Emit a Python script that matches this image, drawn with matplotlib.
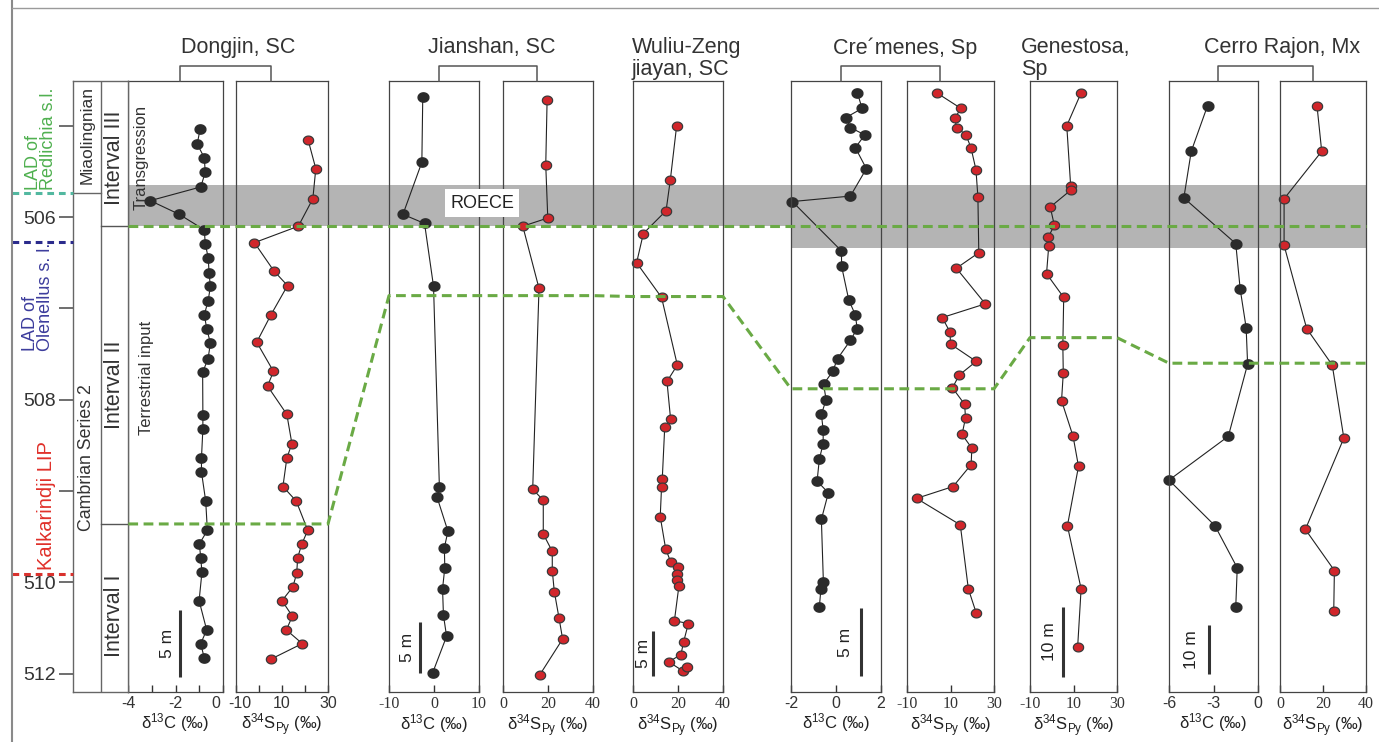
import matplotlib
matplotlib.use("Agg")
import numpy as np
import matplotlib.pyplot as plt
from matplotlib.transforms import ScaledTranslation

plt.rcParams["font.family"] = ["Liberation Sans", "DejaVu Sans"]
plt.rcParams["mathtext.fontset"] = "custom"
plt.rcParams["mathtext.rm"] = "Liberation Sans"
plt.rcParams["mathtext.it"] = "Liberation Sans:italic"

W, H = 1379, 742

# shared age scale (Ma) and the labels printed on it
age_ticks = [505, 506, 507, 508, 509, 510, 511]
age_tick_labels = ["", "506", "", "508", "", "510", "512"]
age_top, age_bottom = 504.51, 511.20

# ROECE interval and correlation horizons (Ma)
roece_top = 505.65
roece_base_china = 506.10
roece_base_spain = 506.34
interval_boundaries = [506.10, 509.36]          # III/II, II/I
series_boundary = 505.74                        # Miaolingnian / Series 2
lower_horizon = [509.36, 506.86, 506.87, 507.88, 507.32, 507.60]
events = [("LAD of\nRedlichia s.l.", 505.74), ("LAD of\nOlenellus s. l.", 506.27),
          ("Kalkarindji LIP", 509.91)]

# Dongjin, South China
dongjin_c_age = [505.04, 505.20, 505.35, 505.51, 505.67, 505.82, 505.97, 506.14, 506.29, 506.45,
                 506.61, 506.76, 506.92, 507.07, 507.23, 507.38, 507.55, 507.70, 508.17, 508.32,
                 508.64, 508.79, 509.11, 509.43, 509.58, 509.73, 509.89, 510.20, 510.52, 510.67, 510.83]
dongjin_d13c = [-0.96, -1.08, -0.78, -0.74, -0.93, -3.07, -1.84, -0.78, -0.74, -0.61,
                -0.58, -0.52, -0.62, -0.78, -0.67, -0.52, -0.62, -0.85, -0.84, -0.84,
                -0.90, -0.90, -0.72, -0.65, -0.99, -0.93, -0.88, -1.00, -0.68, -0.93, -0.78]
dongjin_s_age = [505.16, 505.47, 505.80, 506.10, 506.28, 506.59, 506.75, 507.07, 507.37, 507.69,
                 507.85, 508.16, 508.48, 508.64, 508.95, 509.11, 509.43, 509.58, 509.73, 509.90,
                 510.05, 510.20, 510.37, 510.52, 510.67, 510.84]
dongjin_d34s = [21.4, 24.7, 23.4, 17.1, -2.0, 6.5, 12.4, 5.2, -1.0, 6.3,
                3.7, 12.1, 14.3, 12.1, 10.4, 16.2, 21.2, 18.6, 16.8, 16.4,
                14.7, 10.0, 14.5, 11.9, 18.8, 5.2]

# Jianshan, South China
jianshan_c_age = [504.69, 505.40, 505.97, 506.07, 506.76, 508.96, 509.07, 509.44, 509.62, 509.84,
                  510.07, 510.36, 510.59, 510.99]
jianshan_d13c = [-2.5, -2.7, -6.9, -2.1, -0.1, 1.2, 0.7, 3.1, 2.3, 2.4, 1.9, 2.1, 2.8, -0.3]
jianshan_s_age = [504.72, 505.43, 506.01, 506.10, 506.78, 508.98, 509.10, 509.47, 509.66, 509.87,
                  510.10, 510.39, 510.62, 511.01]
jianshan_d34s = [19.6, 19.0, 19.9, 8.8, 16.0, 13.2, 17.9, 17.9, 21.9, 21.9, 22.8, 24.9, 26.5, 16.4]

# Wuliu-Zengjiayan, South China
wuliu_s_age = [505.00, 505.59, 505.93, 506.18, 506.50, 506.88, 507.62, 507.80, 508.21, 508.30,
               508.87, 508.95, 509.28, 509.63, 509.78, 509.83, 509.91, 509.97, 510.04, 510.42,
               510.45, 510.65, 510.79, 510.87, 510.97, 510.93]
wuliu_d34s = [19.4, 16.6, 14.7, 4.6, 1.6, 12.7, 19.7, 15.1, 16.7, 14.1,
              13.0, 12.7, 12.1, 14.5, 16.8, 19.9, 19.4, 19.4, 20.4, 18.4,
              24.6, 22.5, 21.3, 15.9, 22.2, 24.0]

# Cremenes, Spain
cremenes_c_age = [504.64, 504.81, 504.91, 505.02, 505.10, 505.24, 505.47, 505.77, 505.83, 506.37,
                  506.54, 506.91, 507.07, 507.22, 507.35, 507.55, 507.69, 507.83, 508.00, 508.16,
                  508.33, 508.48, 508.65, 508.89, 509.02, 509.31, 510.00, 510.07, 510.27]
cremenes_d13c = [0.95, 1.16, 0.44, 0.64, 1.28, 0.86, 1.35, 0.64, -1.94, 0.24,
                 0.25, 0.57, 0.86, 0.94, 0.64, 0.07, -0.15, -0.55, -0.44, -0.65,
                 -0.57, -0.57, -0.74, -0.84, -0.34, -0.65, -0.56, -0.67, -0.74]
cremenes_s_age = [504.64, 504.81, 504.92, 505.02, 505.10, 505.24, 505.48, 505.78, 506.39, 506.56,
                  506.95, 507.10, 507.26, 507.39, 507.58, 507.73, 507.87, 508.05, 508.20, 508.38,
                  508.53, 508.71, 508.95, 509.08, 509.37, 510.07, 510.34]
cremenes_d34s = [3.7, 14.8, 11.9, 12.9, 17.1, 19.4, 21.7, 22.6, 23.0, 12.7,
                 26.0, 6.2, 9.8, 10.0, 21.8, 14.0, 10.9, 16.5, 16.9, 15.3,
                 19.8, 19.5, 11.2, -5.6, 14.5, 18.2, 21.9]

# Genestosa, Spain
genestosa_s_age = [504.64, 505.00, 505.66, 505.70, 505.89, 506.09, 506.22, 506.32, 506.62, 506.88,
                   507.40, 507.71, 508.01, 508.40, 508.73, 509.38, 510.07, 510.71]
genestosa_d34s = [13.5, 6.9, 8.7, 9.0, -0.7, 1.2, -1.6, -1.4, -2.4, 5.5,
                  5.1, 5.3, 4.5, 9.8, 12.3, 7.2, 13.5, 11.9]

# Cerro Rajon, Mexico
cerro_c_age = [504.78, 505.28, 505.79, 506.29, 506.79, 507.21, 507.61, 508.40, 508.88, 509.38,
               509.84, 510.27]
cerro_d13c = [-3.4, -4.5, -5.0, -1.5, -1.2, -0.8, -0.7, -2.0, -6.0, -2.9, -1.4, -1.5]
cerro_s_age = [504.78, 505.28, 505.80, 506.31, 507.22, 507.62, 508.42, 509.42, 509.87, 510.31]
cerro_d34s = [17.2, 19.4, 1.9, 1.9, 12.4, 24.3, 29.7, 11.8, 25.3, 25.0]

C_LABEL = "δ$^{13}$C (‰)"
S_LABEL = "δ$^{34}$S$_{\\mathrm{Py}}$ (‰)"

# panel: (ages, values, kind, left px, right px, xlim, ticks, tick labels, tick font, section)
panels = [
    (dongjin_c_age, dongjin_d13c, "C", 128.3, 222.7, (-4, 0), [-4, -3, -2, -1, 0], ["-4", "", "-2", "", "0"], "sans", 0),
    (dongjin_s_age, dongjin_d34s, "S", 236, 328, (-10, 30), [-10, 0, 10, 20, 30], ["-10", "", "10", "", "30"], "sans", 0),
    (jianshan_c_age, jianshan_d13c, "C", 389, 479, (-10, 10), [-10, 0, 10], ["-10", "0", "10"], "serif", 1),
    (jianshan_s_age, jianshan_d34s, "S", 503, 593, (0, 40), [0, 20, 40], ["0", "20", "40"], "serif", 1),
    (wuliu_s_age, wuliu_d34s, "S", 633, 723, (0, 40), [0, 20, 40], ["0", "20", "40"], "serif", 2),
    (cremenes_c_age, cremenes_d13c, "C", 791, 881, (-2, 2), [-2, 0, 2], ["-2", "0", "2"], "sans", 3),
    (cremenes_s_age, cremenes_d34s, "S", 907, 994, (-10, 30), [-10, 10, 30], ["-10", "10", "30"], "serif", 3),
    (genestosa_s_age, genestosa_d34s, "S", 1030, 1117, (-10, 30), [-10, 10, 30], ["-10", "10", "30"], "serif", 4),
    (cerro_c_age, cerro_d13c, "C", 1169, 1258, (-6, 0), [-6, -3, 0], ["-6", "-3", "0"], "sans", 5),
    (cerro_s_age, cerro_d34s, "S", 1280, 1366, (0, 40), [0, 20, 40], ["0", "20", "40"], "serif", 5),
]
# nudges (px) for crowded tick labels at neighbouring panel edges: (panel, tick index, dx)
label_nudges = [(0, 4, -7), (1, 0, 4)]

PANEL_TOP, PANEL_BOTTOM = 81, 692
INK = "#333333"
GREEN = "#6aaa45"

# slightly flattened dot used for the sample symbols
_t = np.linspace(0, 2 * np.pi, 41)
DOT = list(zip(np.cos(_t), 0.86 * np.sin(_t)))


def fx(x):
    return x / W


def fy(y):
    return 1 - y / H


fig = plt.figure(figsize=(W / 100, H / 100), dpi=100)
row = [0, fy(PANEL_BOTTOM), 1, (PANEL_BOTTOM - PANEL_TOP) / H]

# grey ROECE band, drawn behind the panels (x in pixels, y in Ma)
ax_band = fig.add_axes(row, zorder=0)
ax_band.set_xlim(0, W)
ax_band.set_ylim(age_bottom, age_top)
ax_band.axis("off")
ax_band.fill_between([128.3, 791], roece_top, roece_base_china, color="#b4b4b4", lw=0)
ax_band.fill_between([791, 1366], roece_top, roece_base_spain, color="#b4b4b4", lw=0)

# isotope panels
panel_axes = []
for ages, vals, kind, x0, x1, xlim, ticks, tlabels, tfont, sec in panels:
    ax = fig.add_axes([fx(x0), fy(PANEL_BOTTOM), fx(x1 - x0), (PANEL_BOTTOM - PANEL_TOP) / H], zorder=1)
    ax.set_facecolor("none")
    if kind == "C":
        ax.plot(vals, ages, color="#222222", lw=0.8, marker=DOT, ms=7.8,
                mfc="#2b2b2b", mec="#2b2b2b", clip_on=False)
    else:
        ax.plot(vals, ages, color="#222222", lw=0.8, marker=DOT, ms=7.4,
                mfc="#d1262b", mec="#3a3a3a", mew=0.9, clip_on=False)
    ax.set_xlim(*xlim)
    ax.set_ylim(age_bottom, age_top)
    ax.set_yticks([])
    ax.set_xticks(ticks)
    ax.set_xticklabels(tlabels, family="Liberation Serif" if tfont == "serif" else "Liberation Sans",
                       fontsize=11.5, color=INK)
    ax.tick_params(axis="x", direction="in", length=5, width=1, color=INK, pad=3)
    for sp in ax.spines.values():
        sp.set_color("#444444")
        sp.set_linewidth(0.9)
    ax.set_xlabel(C_LABEL if kind == "C" else S_LABEL, fontsize=12, color="#222222", labelpad=0)
    panel_axes.append(ax)

for p, i, dx in label_nudges:
    lab = panel_axes[p].get_xticklabels()[i]
    lab.set_transform(lab.get_transform() + ScaledTranslation(dx / 100, 0, fig.dpi_scale_trans))

# stratigraphic column with the age axis
ax_col = fig.add_axes([fx(73), fy(PANEL_BOTTOM), fx(128.3 - 73), (PANEL_BOTTOM - PANEL_TOP) / H], zorder=1)
ax_col.set_xlim(0, 2)
ax_col.set_ylim(age_bottom, age_top)
ax_col.set_xticks([])
ax_col.set_yticks(age_ticks)
ax_col.set_yticklabels(age_tick_labels, fontsize=14, color="#333333")
ax_col.tick_params(axis="y", direction="out", length=10, width=1.2, color="#555555", pad=2)
for sp in ax_col.spines.values():
    sp.set_color("#666666")
    sp.set_linewidth(1.0)
ax_col.axvline(1, color="#666666", lw=1.0)
ax_col.plot([0, 1], [series_boundary, series_boundary], color="#666666", lw=1.0)
for b in interval_boundaries:
    ax_col.plot([1, 2], [b, b], color="#555555", lw=1.0)
col_text = dict(rotation=90, ha="center", va="center", color="#333333")
ax_col.text(0.5, 505.10, "Miaolingnian", fontsize=12.5, **col_text)
ax_col.text(0.5, 508.63, "Cambrian Series 2", fontsize=12.8, **col_text)
ax_col.text(1.5, 505.35, "Interval III", fontsize=15.5, **col_text)
ax_col.text(1.5, 507.84, "Interval II", fontsize=15.5, **col_text)
ax_col.text(1.5, 510.37, "Interval I", fontsize=15.5, **col_text)

# correlation horizons over the panels (x in pixels, y in Ma)
ax_lines = fig.add_axes(row, zorder=2)
ax_lines.set_xlim(0, W)
ax_lines.set_ylim(age_bottom, age_top)
ax_lines.axis("off")
dash = dict(color=GREEN, lw=2.2, ls=(0, (3.2, 1.8)), clip_on=False)
ax_lines.plot([128.3, 1366], [roece_base_china, roece_base_china], **dash)
hx, hy = [], []
for p in panels:
    x0, x1, sec = p[3], p[4], p[-1]
    hx += [x0, x1]
    hy += [lower_horizon[sec], lower_horizon[sec]]
ax_lines.plot(hx, hy, **dash)

# biostratigraphic / volcanic events left of the column
event_style = [("#52b8a0", "#4fb04f", 41, 190, 13), ("#2b2b8c", "#3c3c9c", 38, 351, 13),
               ("#d9312d", "#e0302a", 47, 570, 14.5)]
for (label, age), (lc, tc, tx, ty, fs) in zip(events, event_style):
    ax_lines.plot([12, 73], [age, age], color=lc, lw=2.2, ls=(0, (2.2, 1.6)), clip_on=False)
    fig.text(fx(tx), fy(ty), label, rotation=90, ha="center", va="bottom", color=tc,
             fontsize=fs, multialignment="left", linespacing=0.9)

# pixel overlay for frame, brackets, titles, scale bars and notes
ax_px = fig.add_axes([0, 0, 1, 1], zorder=3)
ax_px.set_xlim(0, W)
ax_px.set_ylim(H, 0)
ax_px.axis("off")
ax_px.plot([12, 12], [0, H], color="#8a8a8a", lw=1.5)
ax_px.plot([12, W], [8, 8], color="#9a9a9a", lw=1.0)

pairs = [(0, 1), (2, 3), (5, 6), (8, 9)]
for a, b in pairs:
    xa = panels[a][3] + 0.55 * (panels[a][4] - panels[a][3])
    xb = panels[b][3] + 0.38 * (panels[b][4] - panels[b][3])
    ax_px.plot([xa, xa, xb, xb], [PANEL_TOP, 65.7, 65.7, PANEL_TOP], color="#555555", lw=1.1)

title_kw = dict(fontsize=15.5, color="#333333")
ax_px.text(238, 48, "Dongjin, SC", ha="center", va="center", **title_kw)
ax_px.text(492, 48, "Jianshan, SC", ha="center", va="center", **title_kw)
ax_px.text(632, 37, "Wuliu-Zeng\njiayan, SC", ha="left", va="top", linespacing=1.05, **title_kw)
ax_px.text(905, 48, "Cre\u00b4menes, Sp", ha="center", va="center", **title_kw)
ax_px.text(1021, 37, "Genestosa,\nSp", ha="left", va="top", linespacing=1.05, **title_kw)
ax_px.text(1282, 48, "Cerro Rajon, Mx", ha="center", va="center", **title_kw)

# scale bars: x, top, bottom, label, label x
scale_bars = [(180.3, 610, 677, "5 m", 168), (420, 622, 673, "5 m", 408),
              (653.3, 631, 676, "5 m", 643), (861, 608, 676, "5 m", 846),
              (1062.7, 607, 677, "10 m", 1049), (1208.7, 625, 674, "10 m", 1192)]
for x, y0, y1, lab, lx in scale_bars:
    ax_px.plot([x, x], [y0, y1], color="#333333", lw=2.2, solid_capstyle="butt")
    ax_px.text(lx, (y0 + y1) / 2, lab, rotation=90, ha="center", va="center", fontsize=12.5, color="#222222")

ax_px.text(141.5, 157, "Transgression", rotation=90, ha="center", va="center", fontsize=12, color="#333333")
ax_px.text(147, 378, "Terrestrial input", rotation=90, ha="center", va="center", fontsize=12, color="#333333")
ax_px.text(482, 203, "ROECE", ha="center", va="center", fontsize=13, color="#222222",
           bbox=dict(boxstyle="square,pad=0.3", fc="white", ec="none"))

fig.savefig("out.png", dpi=100)
